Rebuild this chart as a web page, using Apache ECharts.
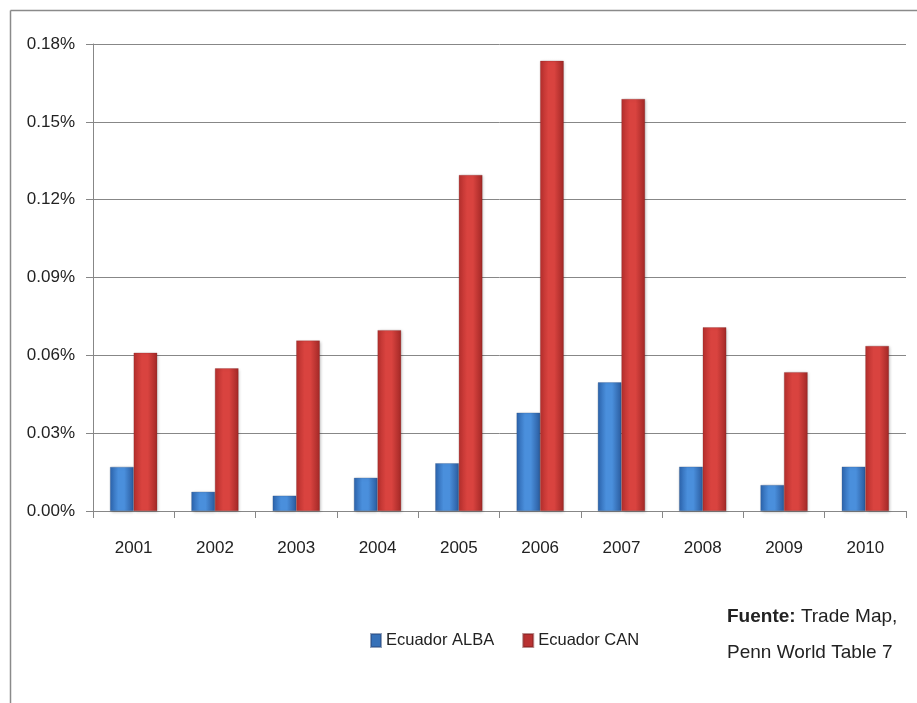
<!DOCTYPE html>
<html>
<head>
<meta charset="utf-8">
<script src="https://cdn.jsdelivr.net/npm/echarts@6/dist/echarts.min.js"></script>
<style>
html,body{margin:0;padding:0;background:#fff;}
#c{width:917px;height:703px;}
</style>
</head>
<body>
<div id="c"></div>
<script>
var categories = ['2001','2002','2003','2004','2005','2006','2007','2008','2009','2010'];
var albaValues = [0.0170, 0.0074, 0.0059, 0.0128, 0.0184, 0.0379, 0.0496, 0.0171, 0.0100, 0.0171];
var canValues  = [0.0610, 0.0550, 0.0657, 0.0697, 0.1295, 0.1735, 0.1588, 0.0708, 0.0535, 0.0636];
var yTicks = [0, 0.03, 0.06, 0.09, 0.12, 0.15, 0.18];

var FONT = '"Liberation Sans", Arial, sans-serif';

function grad(c1, c2, c3) {
  return new echarts.graphic.LinearGradient(0, 0, 1, 0, [
    {offset: 0, color: c1}, {offset: 0.35, color: c2}, {offset: 0.6, color: c2}, {offset: 1, color: c3}
  ]);
}

var chart = echarts.init(document.getElementById('c'));
chart.setOption({
  animation: false,
  backgroundColor: '#ffffff',
  grid: {left: 93, right: 11, top: 44, bottom: 192, containLabel: false},
  legend: {
    left: 365, top: 627,
    itemWidth: 10, itemHeight: 13, itemGap: 28,
    textStyle: {fontFamily: FONT, fontSize: 16.5, color: '#222'},
    icon: 'rect',
    data: [
      {name: 'Ecuador ALBA', itemStyle: {color: '#3671b8'}},
      {name: 'Ecuador CAN', itemStyle: {color: '#b93232'}}
    ]
  },
  xAxis: {
    type: 'category',
    data: categories,
    axisLine: {lineStyle: {color: '#878787', width: 1}},
    axisTick: {show: true, length: 7, alignWithLabel: false, lineStyle: {color: '#878787'}},
    axisLabel: {fontFamily: FONT, fontSize: 17, color: '#222', margin: 29}
  },
  yAxis: {
    type: 'value',
    min: 0, max: 0.18, interval: 0.03,
    axisLine: {show: true, lineStyle: {color: '#878787', width: 1}},
    axisTick: {show: true, inside: false, length: 7, lineStyle: {color: '#878787'}},
    splitLine: {show: true, lineStyle: {color: '#878787', width: 1}},
    axisLabel: {
      fontFamily: FONT, fontSize: 17, color: '#222', margin: 18,
      formatter: function (v) { return v.toFixed(2) + '%'; }
    }
  },
  series: [
    {
      name: 'Ecuador ALBA', type: 'bar', data: albaValues,
      barWidth: '29%', barGap: '0%',
      itemStyle: {
        color: grad('#2c64ad', '#4a8fdc', '#2a5b9e'),
        borderColor: 'rgba(40,70,120,0.5)', borderWidth: 0.5,
        shadowColor: 'rgba(0,0,0,0.25)', shadowBlur: 3, shadowOffsetX: 1, shadowOffsetY: 1
      }
    },
    {
      name: 'Ecuador CAN', type: 'bar', data: canValues,
      barWidth: '29%', barGap: '0%',
      itemStyle: {
        color: grad('#b52f2d', '#d9433f', '#a22826'),
        borderColor: 'rgba(120,30,30,0.5)', borderWidth: 0.5,
        shadowColor: 'rgba(0,0,0,0.25)', shadowBlur: 3, shadowOffsetX: 1, shadowOffsetY: 1
      }
    }
  ],
  graphic: [
    {type: 'line', shape: {x1: 10.5, y1: 10.5, x2: 917, y2: 10.5}, style: {stroke: '#8a8a8a', lineWidth: 1.5}},
    {type: 'line', shape: {x1: 10.5, y1: 10.5, x2: 10.5, y2: 703}, style: {stroke: '#8a8a8a', lineWidth: 1.5}},
    {
      type: 'text', left: 727, top: 599,
      style: {
        text: '{b|Fuente:} Trade Map,\nPenn World Table 7',
        rich: {b: {fontWeight: 'bold', fontFamily: FONT, fontSize: 19, fill: '#222'}},
        fontFamily: FONT, fontSize: 19, fill: '#222', lineHeight: 36
      }
    }
  ]
});
</script>
</body>
</html>
